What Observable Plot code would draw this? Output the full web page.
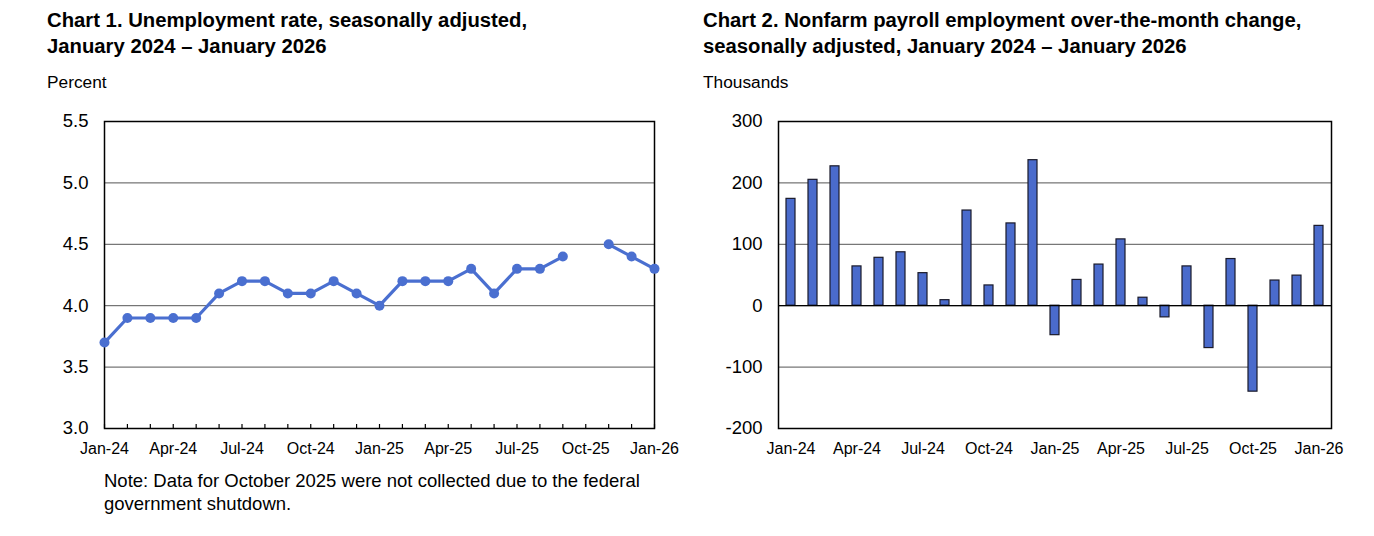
<!DOCTYPE html>
<html>
<head>
<meta charset="utf-8">
<script src="https://cdn.jsdelivr.net/npm/d3@7"></script>
<script src="https://cdn.jsdelivr.net/npm/@observablehq/plot@0.6"></script>
<style>
  html, body { margin: 0; padding: 0; background: #fff; }
  body { width: 1374px; height: 536px; position: relative; overflow: hidden; font-family: "Liberation Sans", Arial, sans-serif; color: #000; }
  .title { position: absolute; top: 7px; font-weight: bold; font-size: 20.3px; line-height: 26px; }
  .unit { position: absolute; top: 72px; font-size: 17.3px; line-height: 20px; }
  .note { position: absolute; top: 469px; left: 104px; font-size: 18.5px; line-height: 23px; }
  .chart { position: absolute; top: 100px; }
  svg { font-family: "Liberation Sans", Arial, sans-serif; }
</style>
</head>
<body>
<div class="title" style="left:47px">Chart 1. Unemployment rate, seasonally adjusted,<br>January 2024 – January 2026</div>
<div class="title" style="left:703px">Chart 2. Nonfarm payroll employment over-the-month change,<br>seasonally adjusted, January 2024 – January 2026</div>
<div class="unit" style="left:47px">Percent</div>
<div class="unit" style="left:703px">Thousands</div>
<div class="note">Note: Data for October 2025 were not collected due to the federal<br>government shutdown.</div>
<div id="c1" class="chart" style="left:0px"></div>
<div id="c2" class="chart" style="left:690px"></div>
<script>
const months = ["Jan-24","Feb-24","Mar-24","Apr-24","May-24","Jun-24","Jul-24","Aug-24","Sep-24","Oct-24","Nov-24","Dec-24",
                "Jan-25","Feb-25","Mar-25","Apr-25","May-25","Jun-25","Jul-25","Aug-25","Sep-25","Oct-25","Nov-25","Dec-25","Jan-26"];
const tickLabels = ["Jan-24","Apr-24","Jul-24","Oct-24","Jan-25","Apr-25","Jul-25","Oct-25","Jan-26"];
const unemployment = [3.7,3.9,3.9,3.9,3.9,4.1,4.2,4.2,4.1,4.1,4.2,4.1,
                      4.0,4.2,4.2,4.2,4.3,4.1,4.3,4.3,4.4,null,4.5,4.4,4.3];
const payrolls = [174,205,227,64,78,87,53,9,155,33,134,237,
                  -48,42,67,108,13,-19,64,-69,76,-140,41,49,130];
const rateTicks = [3.0,3.5,4.0,4.5,5.0,5.5];
const payTicks = [-200,-100,0,100,200,300];

const blue = "#4a6fd0";
const data1 = months.map((m, i) => ({idx: i, month: m, value: unemployment[i]}));
const data2 = months.map((m, i) => ({month: m, value: payrolls[i]}));
const monthIdx = months.map((m, i) => i);
const labelIdx = monthIdx.filter(i => tickLabels.includes(months[i]));
const fmtTick = d => tickLabels.includes(d) ? d : "";

const chart1 = Plot.plot({
  width: 690, height: 370,
  marginLeft: 104, marginRight: 36, marginTop: 21, marginBottom: 42,
  style: {background: "transparent", overflow: "visible"},
  x: {type: "linear", domain: [0, months.length - 1]},
  y: {domain: [3.0, 5.5]},
  marks: [
    Plot.gridY(rateTicks, {stroke: "#555", strokeOpacity: 1, strokeWidth: 1}),
    Plot.axisY(rateTicks, {tickSize: 0, tickPadding: 16, tickFormat: d => d.toFixed(1), fontSize: 18.5, label: null}),
    Plot.axisX(monthIdx, {tickSize: -4, tickFormat: () => "", label: null, stroke: "#000", strokeWidth: 1.2}),
    Plot.axisX(labelIdx, {tickSize: 0, tickPadding: 14, tickFormat: i => months[i], fontSize: 16, label: null}),
    Plot.frame({stroke: "#000", strokeWidth: 1.5}),
    Plot.line(data1, {x: "idx", y: "value", stroke: blue, strokeWidth: 3.2}),
    Plot.dot(data1.filter(d => d.value != null), {x: "idx", y: "value", r: 5, fill: blue})
  ]
});
document.getElementById("c1").appendChild(chart1);

const chart2 = Plot.plot({
  width: 684, height: 370,
  marginLeft: 88, marginRight: 43, marginTop: 21, marginBottom: 42,
  style: {background: "transparent", overflow: "visible"},
  x: {type: "band", domain: months, paddingInner: 0.58, paddingOuter: 0.29},
  y: {domain: [-200, 300]},
  marks: [
    Plot.gridY(payTicks, {stroke: "#555", strokeOpacity: 1, strokeWidth: 1}),
    Plot.axisY(payTicks, {tickSize: 0, tickPadding: 16, tickFormat: d => String(d), fontSize: 18.5, label: null}),
    Plot.axisX(months, {tickSize: 0, tickPadding: 14, tickFormat: fmtTick, fontSize: 16, label: null}),
    Plot.barY(data2, {x: "month", y: "value", fill: "#4a6bcc", stroke: "#1a1a2a", strokeWidth: 1.2}),
    Plot.ruleY([0], {stroke: "#000", strokeWidth: 1.3}),
    Plot.frame({stroke: "#000", strokeWidth: 1.5})
  ]
});
document.getElementById("c2").appendChild(chart2);
</script>
</body>
</html>
